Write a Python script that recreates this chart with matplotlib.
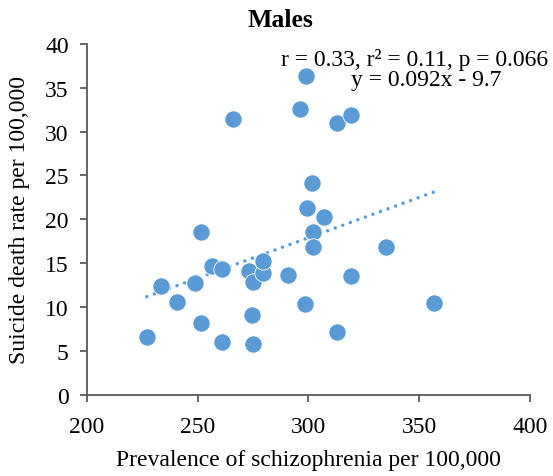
import numpy as np
import matplotlib.pyplot as plt

plt.rcParams['font.family'] = ['Liberation Serif', 'DejaVu Serif']

# prevalence of schizophrenia per 100,000 (x) and suicide death rate per 100,000 (y)
prevalence = [227.1, 233.4, 240.9, 248.9, 251.4, 251.6, 256.4, 260.9, 261.1, 273.1,
              274.7, 274.9, 275.2, 279.6, 279.6, 291.0, 298.4, 299.5, 302.3, 302.3,
              307.2, 298.8, 296.4, 266.0, 301.5, 312.8, 319.1, 334.9, 319.1, 313.1,
              356.7]
suicide_rate = [6.6, 12.4, 10.6, 12.7, 18.6, 8.2, 14.7, 14.4, 6.0, 14.1,
                9.1, 5.8, 12.9, 13.9, 15.3, 13.7, 10.4, 21.3, 18.6, 16.9,
                20.3, 36.3, 32.6, 31.4, 24.2, 31.0, 31.9, 16.9, 13.6, 7.2,
                10.5]
slope = 0.092
intercept = -9.7

blue = '#5B9BD5'
axis_col = '#595959'
fs = 17

fig = plt.figure(figsize=(5.53, 4.77), dpi=100)
ax = fig.add_axes([0.157, 0.170, 0.801, 0.736])

ax.scatter(prevalence, suicide_rate, s=155, color=blue, edgecolors='white',
           linewidths=0.6, zorder=3)

xfit = np.array([min(prevalence), max(prevalence)])
ax.plot(xfit, slope * xfit + intercept, color=blue, linestyle=(0, (0.01, 2.3)),
        linewidth=2.5, dash_capstyle='round', zorder=2)

ax.set_xlim(200, 400)
ax.set_ylim(0, 40)
ax.set_xticks(np.arange(200, 401, 50))
ax.set_yticks(np.arange(0, 41, 5))

for side in ['top', 'right']:
    ax.spines[side].set_visible(False)
for side in ['left', 'bottom']:
    ax.spines[side].set_color(axis_col)
    ax.spines[side].set_linewidth(1.3)
ax.tick_params(direction='out', length=5, width=1.3, color=axis_col,
               labelsize=fs)
ax.tick_params(axis='x', pad=10)
ax.tick_params(axis='y', pad=8)

ax.set_xlabel('Prevalence of schizophrenia per 100,000', fontsize=fs, labelpad=9)
ax.set_ylabel('Suicide death rate per 100,000', fontsize=fs, labelpad=11)

fig.text(0.508, 0.957, 'Males', ha='center', va='center', fontsize=18.5,
         fontweight='bold')
fig.text(0.992, 0.875, 'r = 0.33, r² = 0.11, p = 0.066', ha='right', va='center',
         fontsize=fs)
fig.text(0.77, 0.831, 'y = 0.092x - 9.7', ha='center', va='center', fontsize=fs)

fig.savefig('out.png', dpi=100)
